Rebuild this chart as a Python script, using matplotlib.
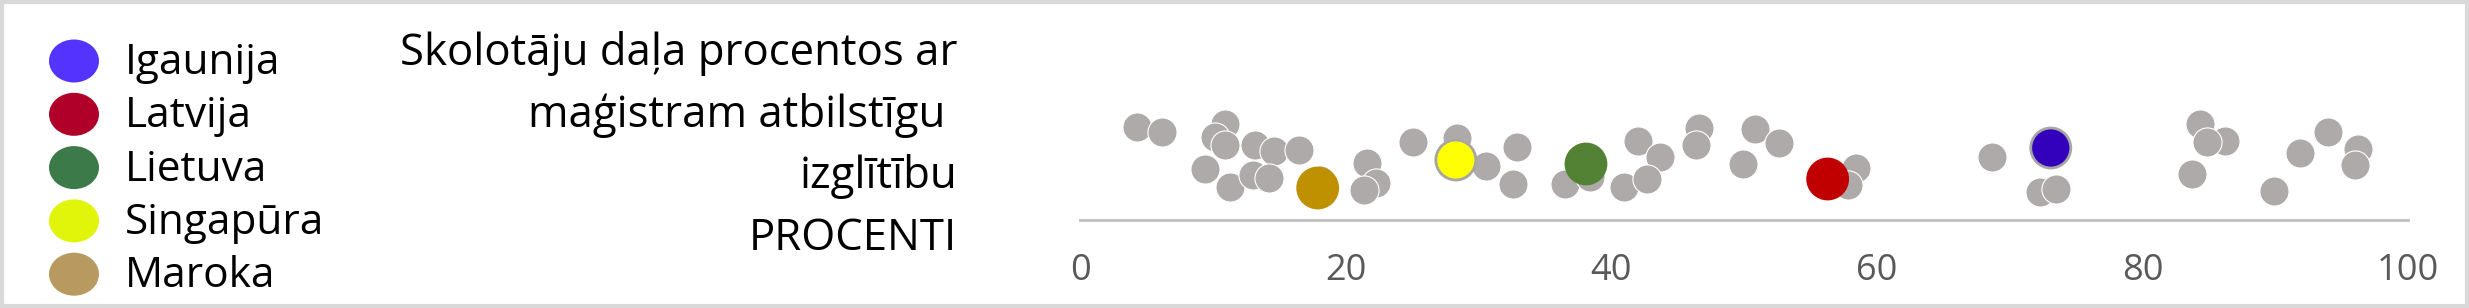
import matplotlib.pyplot as plt
from matplotlib.patches import Ellipse, Rectangle

plt.rcParams['font.family'] = ['Open Sans', 'DejaVu Sans']

# grey background countries: share of teachers (%), and vertical jitter (px above axis)
other_values = [4.3, 6.2, 10.9, 10.2, 10.9, 13.2, 14.6, 16.5, 9.4, 11.3, 13.0, 14.2,
                18.1, 21.6, 22.3, 21.4, 25.1, 28.4, 30.6, 32.9, 32.6, 36.5, 38.4,
                42.0, 43.7, 41.0, 42.7, 46.6, 46.4, 50.8, 52.6, 49.9, 58.4, 57.8,
                68.7, 72.3, 73.5, 84.3, 86.2, 84.9, 83.7, 89.9, 91.9, 94.0, 96.2, 96.0]
other_jitter = [93, 88, 96, 83, 75, 75, 69, 70, 51, 33, 45, 42,
                40, 57, 37, 30, 78, 82, 54, 73, 36, 36, 43,
                79, 63, 33, 41, 92, 75, 91, 77, 56, 52, 35,
                63, 28, 31, 96, 79, 78, 46, 29, 67, 88, 71, 55]

countries = ['Igaunija', 'Latvija', 'Lietuva', 'Singapūra', 'Maroka']
country_values = [73.1, 56.3, 38.1, 28.3, 17.9]
country_jitter = [72, 41, 56, 60, 32]
country_colors = ['#3300bb', '#c00000', '#548235', '#ffff00', '#bf9000']
country_edges = ['#a6a6a6', '#c00000', '#548235', '#a6a6a6', '#bf9000']
legend_colors = ['#5533ff', '#b0002a', '#3d7a4a', '#e0f50a', '#b89a60']

ticks = [0, 20, 40, 60, 80, 100]
title_lines = ['Skolotāju daļa procentos ar', 'maģistram atbilstīgu ', 'izglītību', 'PROCENTI']

W, H = 2469, 308
fig = plt.figure(figsize=(W / 100, H / 100), dpi=100)

# legend and title drawn in pixel space
ax_leg = fig.add_axes([0, 0, 1, 1])
ax_leg.set_xlim(0, W)
ax_leg.set_ylim(H, 0)
ax_leg.axis('off')
for i, (name, col) in enumerate(zip(countries, legend_colors)):
    yy = 61 + i * 53.3
    ax_leg.add_patch(Ellipse((74, yy), 50, 43, facecolor=col, edgecolor='none'))
    ax_leg.text(125, yy + 2, name, fontsize=30.5, va='center', ha='left', color='black')
for i, line in enumerate(title_lines):
    ax_leg.text(957, 65 + i * 61.7, line, fontsize=31.5, va='baseline', ha='right', color='black')
ax_leg.add_patch(Rectangle((1.5, 1.5), W - 4, H - 4, facecolor='none',
                           edgecolor='#d9d9d9', linewidth=3))

# strip plot
ax = fig.add_axes([1080 / W, 88 / H, (2408 - 1080) / W, 220 / H])
ax.scatter(other_values, other_jitter, s=440, color='#aeaaaa',
           edgecolors='white', linewidths=0.8, zorder=2)
ax.scatter(country_values, country_jitter, s=830, c=country_colors,
           edgecolors=country_edges, linewidths=2, zorder=3)
ax.set_xlim(0, 100)
ax.set_ylim(0, 220)
ax.set_xticks(ticks)
ax.set_yticks([])
for side in ['top', 'right', 'left']:
    ax.spines[side].set_visible(False)
ax.spines['bottom'].set_color('#bfbfbf')
ax.spines['bottom'].set_linewidth(2)
ax.tick_params(axis='x', length=0, pad=24, labelsize=26, labelcolor='#595959')
ax.patch.set_alpha(0)

fig.savefig('out.png', dpi=100)
